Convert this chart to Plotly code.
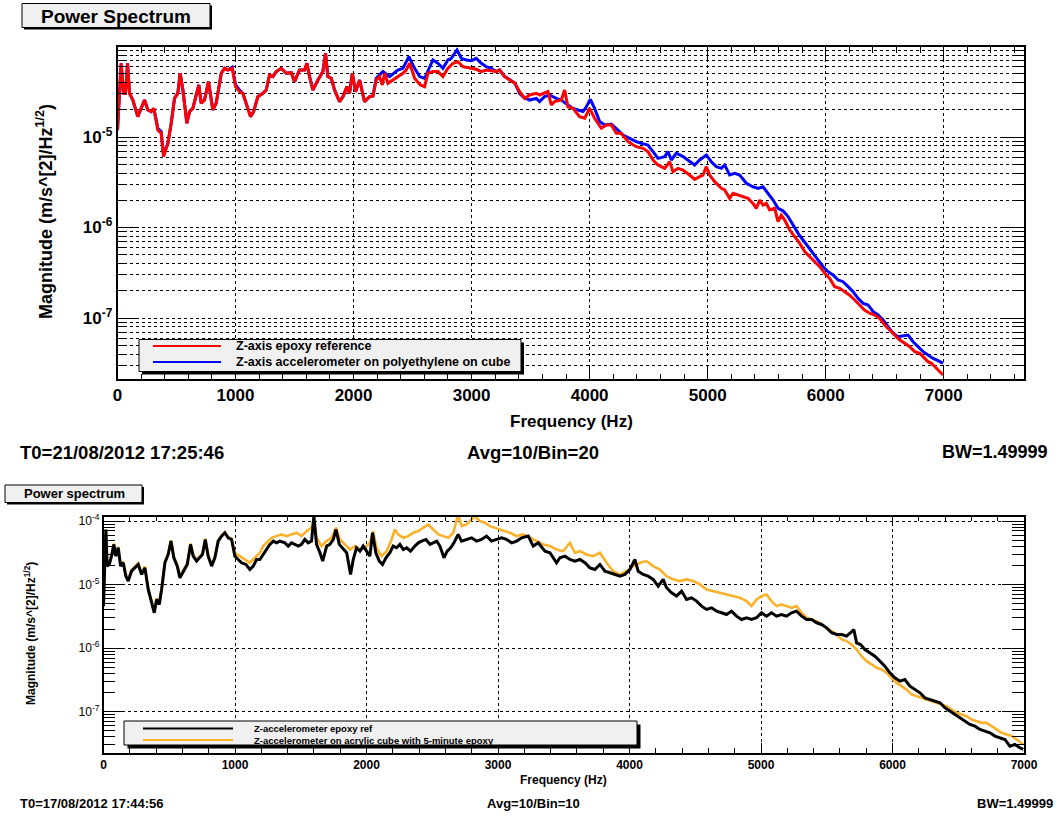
import plotly.graph_objects as go

W, H = 1063, 816

# ---------------- data: top panel (Bin=20) ----------------
red_freq = [0, 31, 51, 68, 85, 102, 130, 172, 229, 257, 285, 308, 342, 370, 390, 427, 455, 483, 511, 531,
            554, 588, 610, 638, 689, 709, 737, 771, 808, 836, 879, 907, 935, 972, 1000, 1034, 1062, 1096,
            1127, 1153, 1189, 1232, 1260, 1288, 1316, 1345, 1387, 1429, 1472, 1500, 1542, 1585, 1605, 1627,
            1655, 1698, 1740, 1763, 1782, 1811, 1839, 1881, 1910, 1944, 1966, 1989, 2017, 2051, 2093, 2136,
            2164, 2192, 2220, 2243, 2263, 2291, 2333, 2384, 2418, 2446, 2475, 2517, 2565, 2602, 2630, 2672,
            2715, 2757, 2799, 2842, 2884, 2927, 2983, 3040, 3082, 3124, 3167, 3209, 3237, 3280, 3322, 3367,
            3407, 3449, 3492, 3548, 3576, 3647, 3675, 3703, 3760, 3788, 3816, 3859, 3915, 3958, 4000, 4042,
            4099, 4141, 4184, 4226, 4268, 4325, 4395, 4452, 4494, 4537, 4579, 4636, 4678, 4706, 4749, 4791,
            4847, 4890, 4932, 4960, 4989, 5017, 5059, 5116, 5144, 5186, 5215, 5257, 5299, 5342, 5384, 5412,
            5441, 5469, 5497, 5525, 5568, 5596, 5624, 5653, 5695, 5737, 5780, 5822, 5864, 5907, 5949, 5992,
            6034, 6076, 6119, 6161, 6203, 6246, 6288, 6331, 6373, 6415, 6458, 6500, 6542, 6585, 6627, 6670,
            6712, 6754, 6797, 6839, 6867, 6896, 6924, 6952, 6980, 6994]
red_mag = [1.19e-5, 6.52e-5, 3.04e-5, 3.04e-5, 6.52e-5, 3.04e-5, 2.56e-5, 1.68e-5, 2.56e-5, 1.99e-5,
           1.91e-5, 2.07e-5, 1.19e-5, 1.10e-5, 6.07e-6, 8.51e-6, 1.42e-5, 2.67e-5, 3.04e-5, 5.06e-5,
           3.31e-5, 1.42e-5, 1.91e-5, 2.07e-5, 3.76e-5, 2.36e-5, 2.56e-5, 4.09e-5, 1.99e-5, 2.36e-5,
           5.06e-5, 5.74e-5, 5.50e-5, 5.74e-5, 3.60e-5, 3.17e-5, 3.04e-5, 2.16e-5, 1.68e-5, 1.91e-5,
           2.79e-5, 3.04e-5, 3.31e-5, 4.84e-5, 4.65e-5, 5.28e-5, 5.74e-5, 5.06e-5, 5.14e-5, 4.09e-5,
           5.50e-5, 5.50e-5, 6.52e-5, 4.65e-5, 3.31e-5, 4.26e-5, 5.28e-5, 8.41e-5, 4.65e-5, 4.45e-5,
           3.31e-5, 2.46e-5, 2.79e-5, 3.60e-5, 3.04e-5, 5.06e-5, 3.17e-5, 4.26e-5, 2.46e-5, 2.79e-5,
           2.84e-5, 4.26e-5, 4.65e-5, 3.76e-5, 5.06e-5, 3.92e-5, 4.26e-5, 4.65e-5, 5.06e-5, 5.50e-5,
           6.52e-5, 4.45e-5, 3.76e-5, 3.60e-5, 5.06e-5, 5.28e-5, 5.28e-5, 4.65e-5, 5.74e-5, 6.52e-5,
           6.79e-5, 5.98e-5, 5.74e-5, 5.60e-5, 5.28e-5, 5.50e-5, 5.40e-5, 5.28e-5, 5.50e-5, 4.65e-5,
           4.26e-5, 3.92e-5, 3.17e-5, 2.67e-5, 2.91e-5, 3.04e-5, 2.91e-5, 3.17e-5, 2.26e-5, 2.46e-5,
           2.56e-5, 3.31e-5, 2.16e-5, 2.07e-5, 1.68e-5, 1.61e-5, 2.07e-5, 1.61e-5, 1.25e-5, 1.36e-5,
           1.36e-5, 1.10e-5, 1.10e-5, 8.88e-6, 7.82e-6, 7.50e-6, 6.89e-6, 5.57e-6, 4.91e-6, 4.51e-6,
           5.33e-6, 4.14e-6, 4.51e-6, 4.32e-6, 3.80e-6, 3.40e-6, 3.65e-6, 3.80e-6, 4.70e-6, 3.80e-6,
           3.21e-6, 2.71e-6, 2.60e-6, 2.10e-6, 2.39e-6, 2.29e-6, 2.19e-6, 2.10e-6, 1.85e-6, 1.63e-6,
           2.01e-6, 1.77e-6, 1.85e-6, 1.56e-6, 1.63e-6, 1.16e-6, 1.37e-6, 1.21e-6, 9.38e-7, 7.92e-7,
           6.68e-7, 5.41e-7, 4.76e-7, 4.19e-7, 3.69e-7, 3.12e-7, 2.74e-7, 2.22e-7, 2.13e-7, 1.95e-7,
           1.79e-7, 1.58e-7, 1.39e-7, 1.22e-7, 1.13e-7, 1.08e-7, 9.91e-8, 8.37e-8, 7.36e-8, 6.48e-8,
           5.71e-8, 5.25e-8, 4.82e-8, 4.25e-8, 4.07e-8, 3.58e-8, 3.29e-8, 3.16e-8, 2.90e-8, 2.66e-8,
           2.45e-8, 2.35e-8]

blue_freq = [0, 31, 51, 68, 85, 102, 130, 172, 229, 257, 285, 308, 342, 370, 390, 427, 455, 483, 511, 531,
             554, 588, 610, 638, 689, 709, 737, 771, 808, 836, 879, 907, 935, 972, 1000, 1034, 1062, 1096,
             1127, 1153, 1189, 1232, 1260, 1288, 1316, 1345, 1387, 1429, 1472, 1500, 1542, 1585, 1605, 1627,
             1655, 1698, 1740, 1763, 1782, 1811, 1839, 1881, 1910, 1944, 1966, 1989, 2017, 2051, 2093, 2136,
             2164, 2192, 2249, 2305, 2375, 2418, 2469, 2517, 2560, 2602, 2644, 2672, 2715, 2757, 2799, 2828,
             2876, 2913, 2955, 2997, 3040, 3082, 3124, 3167, 3209, 3237, 3280, 3322, 3367, 3407, 3435, 3492,
             3548, 3576, 3618, 3661, 3717, 3760, 3816, 3859, 3901, 3944, 3972, 4006, 4042, 4085, 4127, 4184,
             4240, 4282, 4339, 4395, 4438, 4494, 4537, 4579, 4636, 4664, 4692, 4734, 4791, 4847, 4890, 4932,
             4989, 5031, 5073, 5116, 5144, 5186, 5229, 5271, 5328, 5384, 5427, 5469, 5511, 5554, 5596, 5638,
             5681, 5723, 5766, 5808, 5851, 5893, 5935, 5978, 6020, 6062, 6105, 6147, 6190, 6232, 6274, 6317,
             6359, 6401, 6444, 6486, 6528, 6571, 6613, 6655, 6698, 6740, 6782, 6825, 6867, 6910, 6952, 6994]
blue_mag = [1.19e-5, 6.52e-5, 3.04e-5, 3.04e-5, 6.52e-5, 3.04e-5, 2.56e-5, 1.68e-5, 2.56e-5, 1.99e-5,
            1.91e-5, 2.07e-5, 1.25e-5, 1.15e-5, 6.40e-6, 8.51e-6, 1.42e-5, 2.67e-5, 3.04e-5, 5.06e-5,
            3.31e-5, 1.42e-5, 1.91e-5, 2.07e-5, 3.76e-5, 2.36e-5, 2.56e-5, 4.09e-5, 1.99e-5, 2.36e-5,
            5.06e-5, 5.74e-5, 5.50e-5, 5.90e-5, 3.80e-5, 3.30e-5, 3.04e-5, 2.16e-5, 1.68e-5, 1.91e-5,
            2.79e-5, 3.04e-5, 3.31e-5, 4.84e-5, 4.65e-5, 5.28e-5, 5.74e-5, 5.06e-5, 5.14e-5, 4.09e-5,
            5.50e-5, 5.50e-5, 6.52e-5, 4.65e-5, 3.31e-5, 4.26e-5, 5.28e-5, 8.41e-5, 4.65e-5, 4.45e-5,
            3.31e-5, 2.46e-5, 2.79e-5, 3.60e-5, 3.04e-5, 5.06e-5, 3.17e-5, 4.26e-5, 2.46e-5, 2.79e-5,
            2.84e-5, 4.45e-5, 5.28e-5, 4.65e-5, 5.50e-5, 5.74e-5, 7.73e-5, 5.74e-5, 4.65e-5, 4.45e-5,
            5.74e-5, 7.09e-5, 6.52e-5, 5.74e-5, 7.09e-5, 7.40e-5, 9.14e-5, 7.40e-5, 7.09e-5, 6.97e-5,
            7.40e-5, 6.52e-5, 5.98e-5, 5.74e-5, 5.28e-5, 5.50e-5, 4.65e-5, 4.33e-5, 3.92e-5, 3.04e-5,
            2.79e-5, 2.56e-5, 2.67e-5, 2.46e-5, 2.79e-5, 2.91e-5, 2.67e-5, 2.56e-5, 2.26e-5, 2.07e-5,
            1.99e-5, 1.91e-5, 2.16e-5, 2.61e-5, 2.07e-5, 1.48e-5, 1.36e-5, 1.39e-5, 1.19e-5, 1.05e-5,
            9.67e-6, 8.88e-6, 8.51e-6, 8.16e-6, 6.89e-6, 5.81e-6, 6.07e-6, 6.89e-6, 5.57e-6, 6.61e-6,
            6.07e-6, 5.33e-6, 4.91e-6, 5.57e-6, 6.32e-6, 5.33e-6, 4.70e-6, 4.51e-6, 4.91e-6, 3.80e-6,
            3.97e-6, 3.80e-6, 3.08e-6, 2.82e-6, 2.71e-6, 2.82e-6, 2.39e-6, 2.01e-6, 1.63e-6, 1.53e-6,
            1.32e-6, 1.07e-6, 8.63e-7, 7.28e-7, 6.14e-7, 5.19e-7, 4.38e-7, 3.69e-7, 3.25e-7, 2.99e-7,
            2.63e-7, 2.52e-7, 2.22e-7, 1.95e-7, 1.65e-7, 1.45e-7, 1.39e-7, 1.18e-7, 1.08e-7, 9.51e-8,
            8.02e-8, 6.77e-8, 6.22e-8, 6.38e-8, 6.48e-8, 5.47e-8, 4.82e-8, 4.25e-8, 3.90e-8, 3.58e-8,
            3.38e-8, 3.16e-8]

# ---------------- data: bottom panel (Bin=10) ----------------
black_freq = [0, 8, 18, 28, 44, 61, 79, 94, 112, 130, 150, 170, 188, 213, 239, 264, 290, 315, 340, 366,
              386, 404, 424, 442, 467, 492, 513, 535, 561, 581, 606, 637, 662, 682, 708, 733, 753, 774, 796,
              822, 847, 872, 898, 923, 948, 974, 999, 1024, 1050, 1083, 1113, 1139, 1164, 1189, 1214, 1240,
              1265, 1291, 1316, 1341, 1379, 1405, 1430, 1455, 1481, 1506, 1531, 1557, 1582, 1600, 1620, 1646,
              1667, 1697, 1722, 1748, 1768, 1793, 1818, 1849, 1879, 1899, 1924, 1950, 1975, 2000, 2026, 2046,
              2071, 2097, 2122, 2148, 2178, 2203, 2229, 2254, 2280, 2305, 2335, 2368, 2394, 2419, 2452, 2483,
              2508, 2534, 2558, 2589, 2614, 2640, 2665, 2697, 2723, 2761, 2799, 2837, 2875, 2913, 2951, 2989,
              3027, 3065, 3104, 3142, 3180, 3230, 3268, 3306, 3357, 3395, 3445, 3471, 3509, 3547, 3585, 3623,
              3661, 3699, 3737, 3775, 3813, 3851, 3889, 3927, 3965, 4003, 4041, 4066, 4104, 4142, 4180, 4218,
              4256, 4282, 4320, 4358, 4396, 4434, 4472, 4510, 4548, 4586, 4624, 4662, 4700, 4738, 4776, 4814,
              4852, 4890, 4928, 4966, 5004, 5042, 5080, 5118, 5156, 5194, 5232, 5270, 5309, 5347, 5385, 5423,
              5461, 5499, 5537, 5575, 5613, 5651, 5681, 5706, 5727, 5757, 5790, 5828, 5866, 5904, 5942, 5980,
              6018, 6056, 6094, 6133, 6171, 6209, 6246, 6284, 6322, 6361, 6399, 6437, 6475, 6513, 6551, 6589,
              6627, 6665, 6703, 6741, 6779, 6817, 6855, 6893, 6931, 6969, 6994]
black_mag = [4.59e-6, 2.21e-5, 7.40e-5, 1.96e-5, 2.08e-5, 2.81e-5, 4.30e-5, 2.81e-5, 3.81e-5, 1.96e-5,
             2.21e-5, 1.36e-5, 1.14e-5, 1.63e-5, 1.84e-5, 2.08e-5, 1.45e-5, 1.84e-5, 8.40e-6, 5.18e-6,
             3.61e-6, 5.85e-6, 4.88e-6, 8.40e-6, 2.21e-5, 2.99e-5, 4.85e-5, 2.65e-5, 1.96e-5, 1.28e-5,
             1.63e-5, 2.08e-5, 4.30e-5, 2.81e-5, 2.35e-5, 2.65e-5, 2.99e-5, 5.15e-5, 2.81e-5, 1.96e-5,
             2.65e-5, 4.85e-5, 5.81e-5, 6.56e-5, 5.47e-5, 5.15e-5, 2.81e-5, 2.49e-5, 2.21e-5, 2.08e-5,
             1.73e-5, 1.96e-5, 2.49e-5, 2.49e-5, 2.99e-5, 3.58e-5, 4.30e-5, 4.85e-5, 4.56e-5, 4.85e-5,
             4.56e-5, 4.05e-5, 4.56e-5, 4.30e-5, 4.05e-5, 4.30e-5, 5.15e-5, 4.56e-5, 4.85e-5, 1.20e-4,
             4.30e-5, 3.18e-5, 2.35e-5, 4.05e-5, 4.30e-5, 5.15e-5, 7.40e-5, 4.30e-5, 3.81e-5, 3.18e-5,
             1.45e-5, 2.49e-5, 3.81e-5, 3.37e-5, 4.05e-5, 3.37e-5, 2.81e-5, 6.56e-5, 3.18e-5, 2.35e-5,
             2.08e-5, 2.65e-5, 3.18e-5, 4.05e-5, 3.81e-5, 4.30e-5, 3.58e-5, 3.81e-5, 3.37e-5, 4.05e-5,
             4.56e-5, 4.85e-5, 5.15e-5, 4.30e-5, 4.56e-5, 4.85e-5, 4.05e-5, 2.65e-5, 3.37e-5, 3.81e-5,
             4.56e-5, 6.18e-5, 4.85e-5, 5.15e-5, 5.47e-5, 4.85e-5, 5.15e-5, 5.81e-5, 4.85e-5, 5.15e-5,
             5.47e-5, 5.15e-5, 4.56e-5, 4.85e-5, 5.47e-5, 5.81e-5, 4.05e-5, 4.56e-5, 3.37e-5, 3.18e-5,
             2.21e-5, 2.65e-5, 2.81e-5, 2.49e-5, 2.35e-5, 2.49e-5, 2.21e-5, 1.84e-5, 1.73e-5, 2.08e-5,
             1.63e-5, 1.54e-5, 1.45e-5, 1.36e-5, 1.45e-5, 1.73e-5, 2.49e-5, 1.63e-5, 1.45e-5, 1.36e-5,
             1.21e-5, 9.48e-6, 1.21e-5, 8.93e-6, 7.45e-6, 6.60e-6, 7.91e-6, 5.85e-6, 6.21e-6, 5.51e-6,
             4.59e-6, 4.07e-6, 4.32e-6, 3.83e-6, 3.61e-6, 3.39e-6, 3.83e-6, 3.19e-6, 2.83e-6, 3.01e-6,
             2.83e-6, 3.01e-6, 3.61e-6, 3.19e-6, 3.61e-6, 3.19e-6, 3.39e-6, 3.19e-6, 3.61e-6, 3.83e-6,
             3.19e-6, 2.83e-6, 2.83e-6, 2.51e-6, 2.36e-6, 2.09e-6, 1.75e-6, 1.64e-6, 1.64e-6, 1.55e-6,
             1.75e-6, 1.97e-6, 1.21e-6, 1.14e-6, 9.53e-7, 8.45e-7, 7.48e-7, 6.25e-7, 5.21e-7, 4.09e-7,
             3.41e-7, 3.02e-7, 3.21e-7, 2.52e-7, 2.23e-7, 1.98e-7, 1.65e-7, 1.56e-7, 1.47e-7, 1.38e-7,
             1.15e-7, 1.02e-7, 9.03e-8, 8.00e-8, 7.09e-8, 6.28e-8, 5.91e-8, 5.24e-8, 4.93e-8, 4.64e-8,
             4.12e-8, 3.87e-8, 3.65e-8, 2.86e-8, 3.04e-8, 2.70e-8, 2.54e-8]

orange_freq = [0, 8, 18, 28, 44, 61, 79, 94, 112, 130, 150, 170, 188, 213, 239, 264, 290, 315, 340, 366,
               386, 404, 424, 442, 467, 492, 513, 535, 561, 581, 606, 637, 662, 682, 708, 733, 753, 774, 796,
               822, 847, 872, 898, 923, 948, 974, 999, 1037, 1075, 1113, 1151, 1189, 1214, 1240, 1278, 1316,
               1354, 1392, 1430, 1468, 1506, 1544, 1582, 1600, 1620, 1658, 1697, 1734, 1768, 1798, 1836, 1874,
               1912, 1950, 1988, 2026, 2051, 2076, 2114, 2153, 2191, 2216, 2241, 2280, 2318, 2355, 2394, 2431,
               2469, 2508, 2546, 2584, 2622, 2660, 2697, 2723, 2761, 2799, 2824, 2862, 2900, 2938, 2976, 3015,
               3053, 3091, 3142, 3192, 3243, 3293, 3344, 3395, 3445, 3496, 3547, 3585, 3623, 3673, 3724, 3775,
               3826, 3876, 3927, 3978, 4028, 4079, 4130, 4180, 4231, 4282, 4333, 4383, 4434, 4485, 4535, 4586,
               4637, 4687, 4738, 4789, 4840, 4890, 4928, 4966, 5004, 5042, 5080, 5118, 5156, 5194, 5232, 5270,
               5309, 5347, 5385, 5423, 5461, 5499, 5537, 5575, 5613, 5651, 5689, 5727, 5765, 5803, 5841, 5879,
               5917, 5955, 5993, 6031, 6069, 6107, 6145, 6183, 6221, 6259, 6297, 6335, 6373, 6411, 6449, 6487,
               6526, 6564, 6602, 6640, 6678, 6716, 6754, 6792, 6830, 6868, 6906, 6944, 6994]
orange_mag = [4.90e-6, 2.30e-5, 7.40e-5, 2.05e-5, 2.20e-5, 2.95e-5, 4.40e-5, 2.95e-5, 3.95e-5, 2.05e-5,
              2.30e-5, 1.45e-5, 1.20e-5, 1.70e-5, 1.92e-5, 2.17e-5, 1.52e-5, 1.92e-5, 8.80e-6, 5.40e-6,
              3.75e-6, 6.10e-6, 5.10e-6, 8.80e-6, 2.30e-5, 3.10e-5, 5.00e-5, 2.75e-5, 2.05e-5, 1.35e-5,
              1.70e-5, 2.17e-5, 4.45e-5, 2.95e-5, 2.45e-5, 2.75e-5, 3.10e-5, 5.30e-5, 2.95e-5, 2.05e-5,
              2.75e-5, 5.00e-5, 6.00e-5, 6.75e-5, 5.65e-5, 5.30e-5, 3.18e-5, 2.81e-5, 2.49e-5, 2.21e-5,
              2.65e-5, 3.18e-5, 4.05e-5, 4.56e-5, 5.47e-5, 5.81e-5, 6.18e-5, 5.81e-5, 6.18e-5, 6.56e-5,
              5.81e-5, 6.97e-5, 7.86e-5, 1.06e-4, 5.47e-5, 4.05e-5, 4.85e-5, 5.47e-5, 7.86e-5, 5.15e-5,
              4.30e-5, 3.58e-5, 4.05e-5, 3.58e-5, 3.81e-5, 4.56e-5, 6.97e-5, 3.81e-5, 2.81e-5, 3.37e-5,
              5.15e-5, 7.40e-5, 6.18e-5, 5.47e-5, 5.81e-5, 6.56e-5, 6.97e-5, 7.86e-5, 8.87e-5, 7.40e-5,
              6.18e-5, 5.81e-5, 5.47e-5, 6.56e-5, 1.27e-4, 8.35e-5, 8.87e-5, 1.06e-4, 1.20e-4, 1.00e-4,
              9.42e-5, 8.35e-5, 7.86e-5, 7.40e-5, 6.97e-5, 6.56e-5, 5.81e-5, 6.18e-5, 5.47e-5, 4.85e-5,
              4.30e-5, 4.05e-5, 3.58e-5, 3.37e-5, 4.56e-5, 3.18e-5, 3.37e-5, 2.99e-5, 2.81e-5, 3.18e-5,
              2.21e-5, 1.63e-5, 1.45e-5, 1.63e-5, 1.96e-5, 2.21e-5, 2.35e-5, 1.96e-5, 1.73e-5, 1.36e-5,
              1.21e-5, 1.14e-5, 1.21e-5, 1.14e-5, 1.01e-5, 8.40e-6, 7.91e-6, 7.45e-6, 7.01e-6, 6.60e-6,
              6.21e-6, 5.51e-6, 4.59e-6, 5.85e-6, 6.60e-6, 7.01e-6, 5.51e-6, 4.59e-6, 4.88e-6, 4.59e-6,
              4.32e-6, 4.59e-6, 3.61e-6, 3.01e-6, 2.83e-6, 2.67e-6, 2.36e-6, 2.09e-6, 1.85e-6, 1.64e-6,
              1.37e-6, 1.29e-6, 1.14e-6, 9.53e-7, 7.48e-7, 6.25e-7, 5.54e-7, 4.91e-7, 4.62e-7, 4.09e-7,
              3.41e-7, 2.84e-7, 2.52e-7, 2.23e-7, 1.87e-7, 1.76e-7, 1.65e-7, 1.56e-7, 1.47e-7, 1.38e-7,
              1.30e-7, 1.22e-7, 1.08e-7, 9.59e-8, 9.03e-8, 8.50e-8, 7.53e-8, 7.09e-8, 6.67e-8, 6.67e-8,
              5.91e-8, 5.24e-8, 4.64e-8, 4.37e-8, 4.12e-8, 3.65e-8, 3.04e-8]

# tick labels
y_major_vals_top = [1e-7, 1e-6, 1e-5]
y_major_text_top = ["10<sup>-7</sup>", "10<sup>-6</sup>", "10<sup>-5</sup>"]
y_major_vals_bot = [1e-7, 1e-6, 1e-5, 1e-4]
y_major_text_bot = ["10<sup>-7</sup>", "10<sup>-6</sup>", "10<sup>-5</sup>", "10<sup>-4</sup>"]

legend_top = ["Z-axis epoxy reference", "Z-axis accelerometer on polyethylene on cube"]
legend_bot = ["Z-accelerometer epoxy ref", "Z-accelerometer on acrylic cube with 5-minute epoxy"]

# ---------------- helpers ----------------
def X(px):
    return px / W

def Y(py):
    return 1 - py / H

FONT = "Liberation Sans, Arial, Helvetica, sans-serif"
minor_y = [m * 10.0 ** e for e in range(-9, -3) for m in range(2, 10)]

fig = go.Figure()
fig.add_trace(go.Scatter(x=blue_freq, y=blue_mag, mode="lines", name=legend_top[1],
                         line=dict(color="#0000ff", width=3), xaxis="x", yaxis="y", showlegend=False))
fig.add_trace(go.Scatter(x=red_freq, y=red_mag, mode="lines", name=legend_top[0],
                         line=dict(color="#ff0000", width=3), xaxis="x", yaxis="y", showlegend=False))
fig.add_trace(go.Scatter(x=orange_freq, y=orange_mag, mode="lines", name=legend_bot[1],
                         line=dict(color="#fbb12a", width=2.6), xaxis="x2", yaxis="y2", showlegend=False))
fig.add_trace(go.Scatter(x=black_freq, y=black_mag, mode="lines", name=legend_bot[0],
                         line=dict(color="#000000", width=3), xaxis="x2", yaxis="y2", showlegend=False))

common_axis = dict(showline=True, linecolor="black", linewidth=1.5, mirror="allticks", automargin=False,
                   ticks="inside", tickcolor="black", tickwidth=1, zeroline=False)

fig.update_layout(
    template="none",
    width=W, height=H, margin=dict(l=0, r=0, t=0, b=0, pad=0, autoexpand=False), autosize=False,
    paper_bgcolor="white", plot_bgcolor="white", showlegend=False,
    xaxis=dict(domain=[X(117.5), X(1024)], anchor="y", range=[0, 7680], tick0=0, dtick=1000,
               ticklen=12, showgrid=True, gridcolor="black", gridwidth=1, griddash="dot",
               minor=dict(dtick=200, tick0=0, ticks="inside", ticklen=6, tickcolor="black", showgrid=False),
               tickfont=dict(family=FONT, size=17, color="black", weight="bold"), **common_axis),
    yaxis=dict(domain=[Y(379.3), Y(47.3)], anchor="x", type="log", range=[-7.677, -4.009],
               tickmode="array", tickvals=y_major_vals_top, ticktext=y_major_text_top, ticklen=22,
               showgrid=True, gridcolor="black", gridwidth=1, griddash="dot",
               minor=dict(tickmode="array", tickvals=minor_y, ticks="inside", ticklen=10, tickcolor="black",
                          showgrid=True, gridcolor="black", gridwidth=1, griddash="dot"),
               tickfont=dict(family=FONT, size=17, color="black", weight="bold"), **common_axis),
    xaxis2=dict(domain=[X(103.5), X(1024)], anchor="y2", range=[0, 7000], tick0=0, dtick=1000,
                ticklen=10, showgrid=True, gridcolor="black", gridwidth=1, griddash="dot",
                minor=dict(dtick=200, tick0=0, ticks="inside", ticklen=5, tickcolor="black", showgrid=False),
                tickfont=dict(family=FONT, size=12, color="black", weight="bold"), **common_axis),
    yaxis2=dict(domain=[Y(752.5), Y(516.7)], anchor="x2", type="log", range=[-7.643, -3.930],
                tickmode="array", tickvals=y_major_vals_bot, ticktext=y_major_text_bot, ticklen=22,
                showgrid=True, gridcolor="black", gridwidth=1, griddash="dot",
                minor=dict(tickmode="array", tickvals=minor_y, ticks="inside", ticklen=12, tickcolor="black",
                           showgrid=False),
                tickfont=dict(family=FONT, size=12, color="black"), **common_axis),
)

shapes = []
annotations = []

def box(x0, y0, x1, y1, off):
    shapes.append(dict(type="rect", xref="paper", yref="paper", x0=X(x0 + off), x1=X(x1 + off),
                       y0=Y(y1 + off), y1=Y(y0 + off), fillcolor="black", line=dict(width=0), layer="above"))
    shapes.append(dict(type="rect", xref="paper", yref="paper", x0=X(x0), x1=X(x1), y0=Y(y1), y1=Y(y0),
                       fillcolor="#f0f0f0", line=dict(color="black", width=1), layer="above"))

def seg(x0, x1, y, color, width):
    shapes.append(dict(type="line", xref="paper", yref="paper", x0=X(x0), x1=X(x1), y0=Y(y), y1=Y(y),
                       line=dict(color=color, width=width), layer="above"))

def text(s, px, py, size, xanchor="center", bold=True, angle=0):
    annotations.append(dict(text=s, x=X(px), y=Y(py), xref="paper", yref="paper", showarrow=False,
                            xanchor=xanchor, yanchor="middle", textangle=angle,
                            font=dict(family=FONT, size=size, color="black",
                                      weight="bold" if bold else "normal")))

# title boxes
box(22, 3.5, 210, 27.5, 2)
text("Power Spectrum", 116, 16, 19)
box(5, 485, 142, 502.5, 2)
text("Power spectrum", 74, 494, 13)

# top legend
box(139, 339.5, 521, 371.5, 3)
seg(153, 221, 346, "#ff0000", 2)
seg(153, 221, 362, "#0000ff", 2)
text(legend_top[0], 234, 346, 12.5, xanchor="left")
text(legend_top[1], 234, 362, 12.5, xanchor="left")

# bottom legend
box(124, 721, 637, 745, 3.5)
seg(143, 233, 728.5, "black", 2)
seg(143, 233, 740, "#fbb12a", 2)
text(legend_bot[0], 252, 728.5, 9.5, xanchor="left")
text(legend_bot[1], 252, 740, 9.5, xanchor="left")

# axis titles
text("Frequency (Hz)", 571, 421, 17)
text("Magnitude (m/s^[2]/Hz<sup>1/2</sup>)", 45, 212, 18, angle=-90)
text("Frequency (Hz)", 563, 780, 12)
text("Magnitude (m/s^[2]/Hz<sup>1/2</sup>)", 30, 634, 12, angle=-90)

# footers
text("T0=21/08/2012 17:25:46", 18, 452, 18.5, xanchor="left")
text("Avg=10/Bin=20", 533, 452, 18.5)
text("BW=1.49999", 1050, 452, 18, xanchor="right")
text("T0=17/08/2012 17:44:56", 18, 803, 13, xanchor="left")
text("Avg=10/Bin=10", 533, 803, 13)
text("BW=1.49999", 1055, 803, 13, xanchor="right")

fig.update_layout(shapes=shapes, annotations=annotations)
fig.write_html("out.html", config={"responsive": False, "displayModeBar": False},
               post_script="document.body.style.margin='0';document.body.style.padding='0';"
                           "document.body.style.overflow='hidden';"
                           "document.documentElement.style.overflow='hidden';")
